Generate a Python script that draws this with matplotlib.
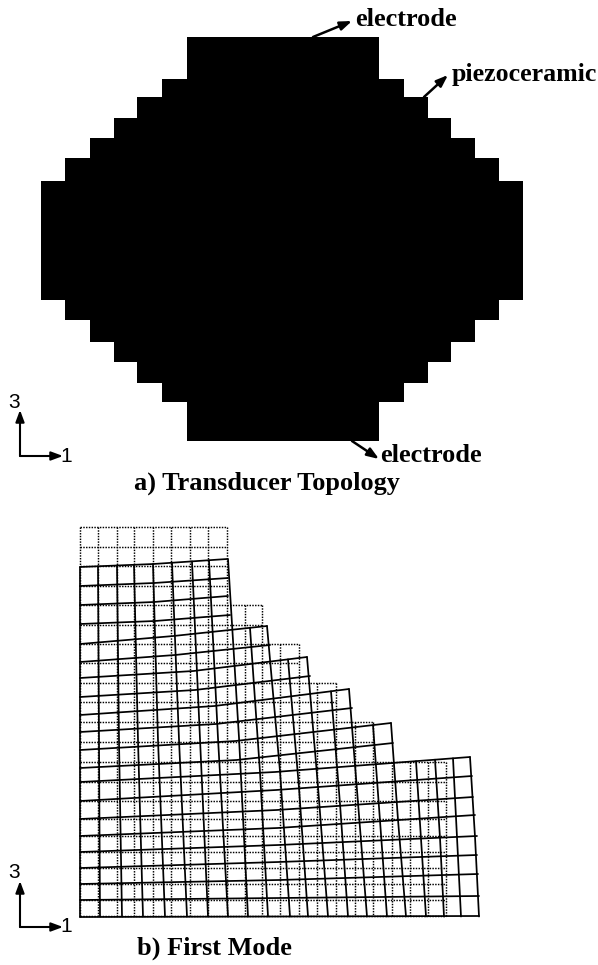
import numpy as np
import matplotlib
matplotlib.use('Agg')
import matplotlib.pyplot as plt

# a) silhouette of the transducer, one entry per band
band_edges = [37, 79, 97, 118, 138, 158, 181, 300, 320, 342, 362, 383, 402, 441]
band_left = [187, 162, 137, 114, 90, 65, 41, 65, 90, 114, 137, 162, 187]
band_right = [379, 404, 428, 451, 475, 499, 523, 499, 475, 451, 428, 404, 379]

# b) undeformed mesh
rest_rows = [527, 547, 566, 586, 605, 625, 644, 663, 683, 702, 722, 742, 762,
             782, 801, 819, 836, 852, 868, 884, 900, 916]
rest_row_end = [227, 227, 227, 227, 262, 262, 299, 299, 336, 336, 373, 373, 446,
                446, 446, 446, 446, 446, 446, 446, 446, 446]
rest_cols = [80, 98, 117, 134, 153, 171, 190, 208, 227, 245, 262, 280, 299,
             317, 336, 355, 373, 392, 410, 428, 446]
rest_col_top = [527, 527, 527, 527, 527, 527, 527, 527, 527, 605, 605, 644, 644,
                683, 683, 722, 722, 762, 762, 762, 762]

# b) deformed mesh, horizontal lines: left, middle, right end
row_left_y = [567, 586, 605, 624, 644, 662, 678, 697, 715, 732, 750, 768, 782,
              801, 819, 836, 852, 868, 884, 900, 917]
row_mid_y = [564, 583, 602, 621, 636, 655, 671, 690, 706, 724, 741, 760, 772,
             790, 810, 828, 845, 862, 880, 898, 916.5]
row_end_x = [227, 228, 228, 230, 267, 270, 307, 310, 349, 352, 391, 393, 470,
             472, 473, 475, 477, 477, 478, 479, 479]
row_end_y = [559, 578, 596, 615, 626, 645, 657, 676, 689, 708, 723, 743, 757,
             776, 797, 815, 836, 855, 874, 896, 916]

# b) deformed mesh, vertical lines: top, middle, bottom and the row they start on
col_top_x = [80, 98, 117, 134, 153, 172, 192, 209, 228, 250, 267, 288, 307,
             331, 349, 373, 391, 416, 435, 453, 470]
col_mid_x = [80, 99, 119, 138, 158, 179, 200, 218, 239, 260, 280, 299, 318,
             340, 358, 380, 398, 421, 440, 457, 475]
col_bot_x = [80, 100, 122, 143, 165, 187, 208, 228, 248, 268, 290, 308, 328,
             348, 367, 387, 406, 426, 444, 461, 479]
col_top_row = [0, 0, 0, 0, 0, 0, 0, 0, 0, 4, 4, 6, 6, 8, 8, 10, 10, 12, 12, 12, 12]


def rowLine(i):
    x = [80, (80 + row_end_x[i]) / 2, row_end_x[i]]
    y = [row_left_y[i], row_mid_y[i], row_end_y[i]]
    return x, y


def arrow(ax, start, end, lw=1.8):
    ax.annotate('', xy=end, xytext=start,
                arrowprops=dict(arrowstyle='-|>,head_length=0.7,head_width=0.26',
                                color='black', lw=lw, shrinkA=0, shrinkB=0))


fig = plt.figure(figsize=(5.98, 9.65), dpi=100)
ax = fig.add_axes([0, 0, 1, 1])
ax.set_xlim(0, 598)
ax.set_ylim(965, 0)
ax.axis('off')

# silhouette as one stepped polygon
edges = np.array(band_edges)
ys = np.repeat(edges, 2)[1:-1]
right = np.repeat(band_right, 2)
left = np.repeat(band_left, 2)
ax.fill(np.r_[right, left[::-1]], np.r_[ys, ys[::-1]], color='black', lw=0)

# undeformed mesh
dots = dict(color='black', lw=1.05, ls=(0, (1, 0.9)))
for y, xe in zip(rest_rows, rest_row_end):
    ax.plot([80, xe], [y, y], **dots)
for x, yt in zip(rest_cols, rest_col_top):
    ax.plot([x, x], [yt, 916], **dots)

# deformed mesh
solid = dict(color='black', lw=1.25, solid_capstyle='round')
for i in range(len(row_left_y)):
    x, y = rowLine(i)
    ax.plot(x, y, **solid)
for j in range(len(col_top_x)):
    x, y = rowLine(col_top_row[j])
    top = np.interp(col_top_x[j], x, y)
    ax.plot([col_top_x[j], col_mid_x[j], col_bot_x[j]],
            [top, (top + 916.5) / 2, 916.5], **solid)

# labels and leader arrows
serif = dict(family='Liberation Serif', weight='bold', color='black', va='center', size=18.9)
ax.text(355, 20, 'electrode', ha='left', **serif)
ax.text(452, 74, 'piezoceramic', ha='left', family='Liberation Serif', weight='bold',
        color='black', va='center', size=18.6)
ax.text(380, 455, 'electrode', ha='left', **serif)
ax.text(134, 483, 'a) Transducer Topology', ha='left', **serif)
ax.text(137, 948, 'b) First Mode', ha='left', **serif)
arrow(ax, (313, 37), (352, 21))
arrow(ax, (424, 97), (448, 75))
arrow(ax, (352, 441), (379, 459))

# coordinate triads
sans = dict(family='Liberation Sans', color='black', size=15, ha='center', va='center')
for ox, oy, ty, tx_y in [(20, 456, 403, 457), (20, 927, 872, 927)]:
    arrow(ax, (ox, oy), (ox, oy - 46), lw=1.5)
    arrow(ax, (ox, oy), (ox + 43, oy), lw=1.5)
    ax.text(ox - 6, ty, '3', **sans)
    ax.text(ox + 46, tx_y, '1', **sans)

fig.savefig('out.png', dpi=100)
